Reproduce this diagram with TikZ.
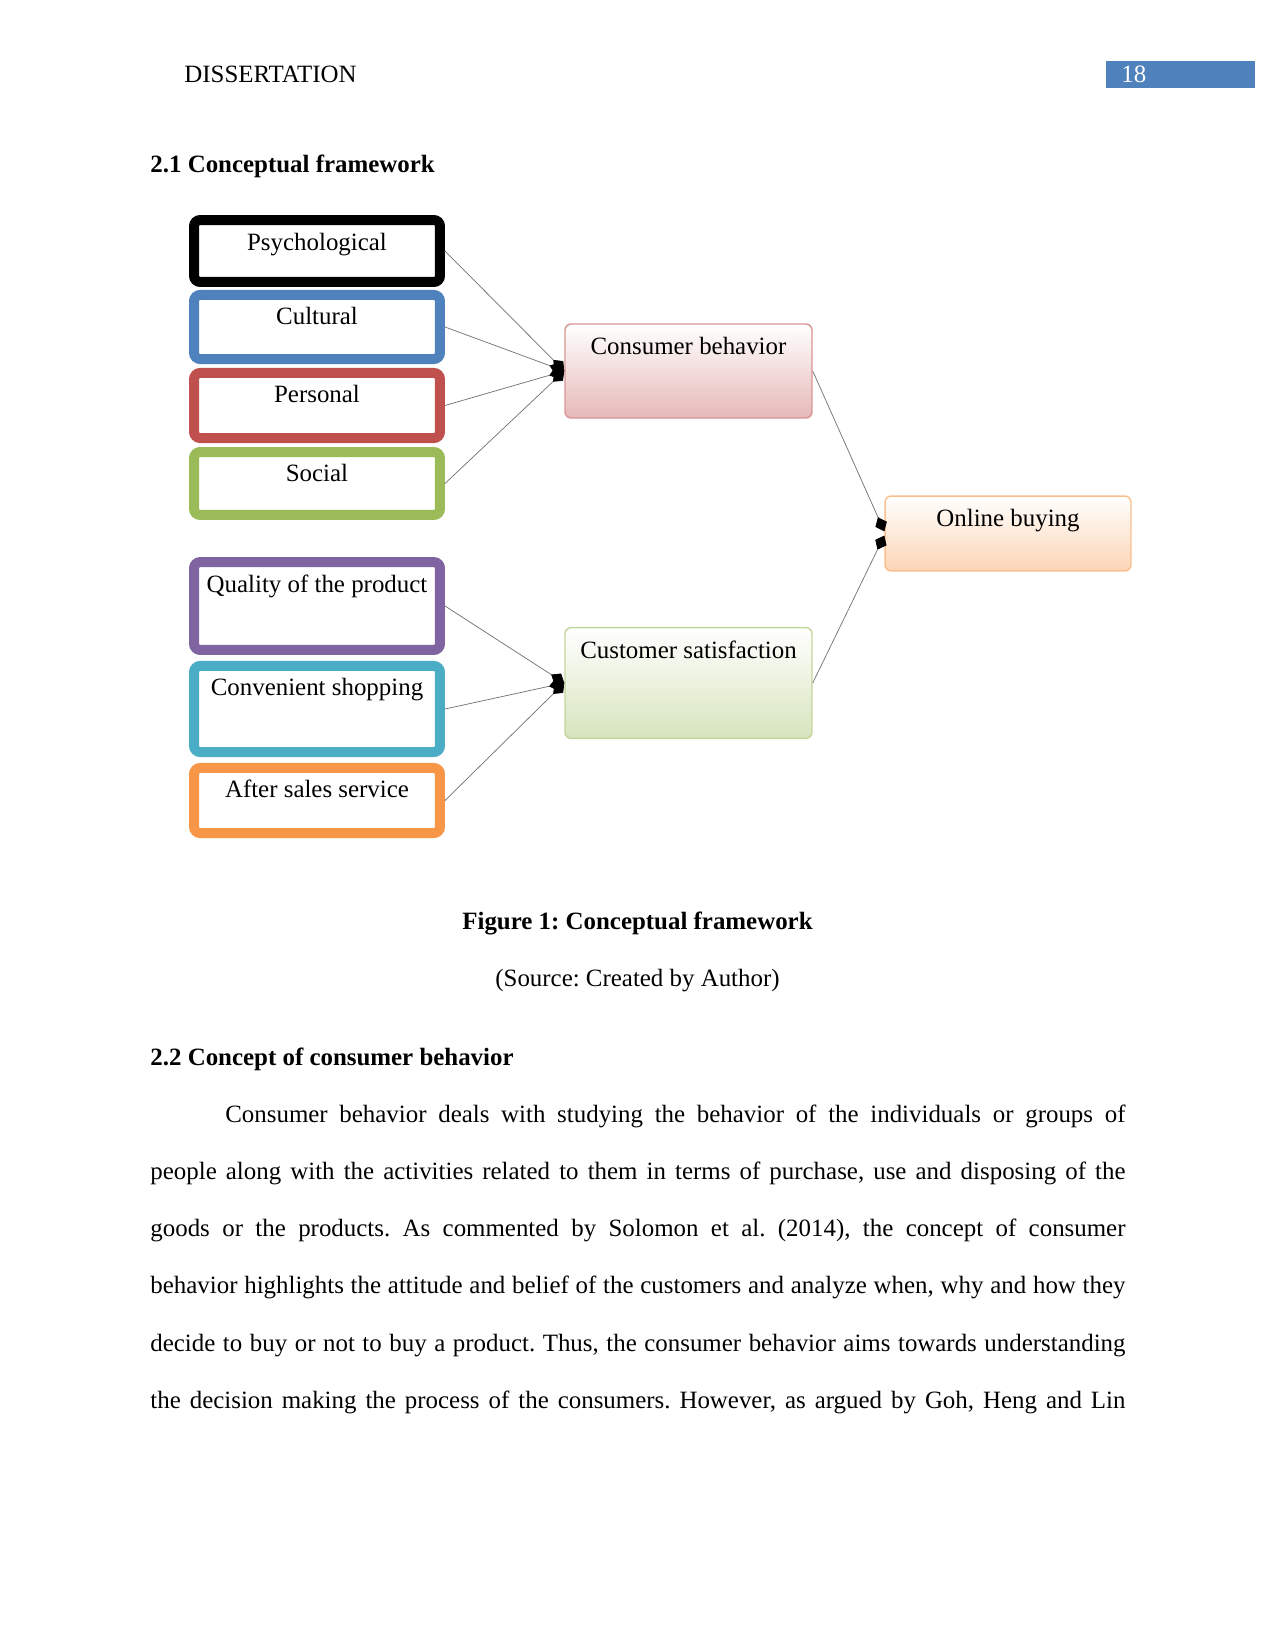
\documentclass[tikz,border=0pt]{standalone}
\usepackage{fontspec}
\setmainfont{Liberation Serif}
\usetikzlibrary{arrows.meta}

\definecolor{cultc}{HTML}{4F81BD}
\definecolor{persc}{HTML}{C0504D}
\definecolor{socc}{HTML}{9BBB59}
\definecolor{qualc}{HTML}{8064A2}
\definecolor{convc}{HTML}{4BACC6}
\definecolor{salec}{HTML}{F79646}
\definecolor{behline}{HTML}{D99694}
\definecolor{behfill}{HTML}{E6B9B8}
\definecolor{satline}{HTML}{C3D69B}
\definecolor{satfill}{HTML}{D7E4BD}
\definecolor{buyline}{HTML}{FAC090}
\definecolor{buyfill}{HTML}{FCD5B5}

\tikzset{
  txt/.style={inner sep=0pt, anchor=base west},
  factor/.style={draw=#1, fill=white, line width=4.82pt, rounded corners=3pt,
    minimum width=118.5pt, inner sep=0pt, text height=14.45pt},
  stage/.style={draw=#1, line width=0.7pt, rounded corners=3pt,
    minimum width=119pt, inner sep=0pt, text height=14.9pt},
  link/.style={draw=black!55, line width=0.35pt,
    -{Diamond[length=7.5pt,width=6pt,color=black]}}
}

\begin{document}
\frenchspacing
\begin{tikzpicture}[x=0.4818pt, y=-0.4818pt, font=\fontsize{12}{13.8}\selectfont]
    % page
    \fill[white] (0,0) rectangle (1275,1650);
    \useasboundingbox (0,0) rectangle (1275,1650);

    % header
    \node[txt] (runhead) at (184,83) {DISSERTATION};
    \fill[cultc] (1106,61) rectangle (1255,88);
    \node[txt, white] (pgnum) at (1121,83) {18};
    \node[txt, font=\fontsize{12}{13.8}\selectfont\bfseries] (sec1) at (150,173) {2.1 Conceptual framework};

    % factor boxes
    \node[factor=black, text depth=15.4pt] (psy) at (317,251) {Psychological};
    \node[factor=cultc, text depth=16.4pt] (cult) at (317,327) {Cultural};
    \node[factor=persc, text depth=16.9pt] (pers) at (317,405.5) {Personal};
    \node[factor=socc, text depth=15.9pt] (soc) at (317,483.5) {Social};
    \node[factor=qualc, text depth=27.9pt] (qual) at (317,606) {Quality of the product};
    \node[factor=convc, text depth=27pt] (conv) at (317,709) {Convenient shopping};
    \node[factor=salec, text depth=16.9pt] (sale) at (317,800.5) {After sales service};

    % middle and right boxes
    \node[stage=behline, top color=white, bottom color=behfill, text depth=30.4pt] (beh) at (688.5,371) {Consumer behavior};
    \node[stage=satline, top color=white, bottom color=satfill, text depth=38.5pt] (sat) at (688.5,683) {Customer satisfaction};
    \node[stage=buyline, top color=white, bottom color=buyfill, minimum width=118.5pt, text depth=21.2pt] (buy) at (1008,533.5) {Online buying};

    % connectors
    \foreach \f in {psy,cult,pers,soc}
      \draw[link] (\f.east) -- (beh.west);
    \foreach \f in {qual,conv,sale}
      \draw[link] (\f.east) -- (sat.west);
    \draw[link] (beh.east) -- ([yshift=1pt]buy.west);
    \draw[link] (sat.east) -- ([yshift=-1pt]buy.west);

    % caption
    \node[inner sep=0pt, anchor=base, font=\fontsize{12}{13.8}\selectfont\bfseries] (cap) at (637.5,929) {Figure 1: Conceptual framework};
    \node[inner sep=0pt, anchor=base] (src) at (637.5,986) {(Source: Created by Author)};

    % section text
    \node[txt, font=\fontsize{12}{13.8}\selectfont\bfseries] (sec2) at (150,1065) {2.2 Concept of consumer behavior};
    \node[txt, text width=469.8pt, align=justify, font=\fontsize{12}{27.6}\selectfont] (para) at (150,1122)
      {\tolerance=10000\hyphenpenalty=10000\spaceskip=3pt plus 8pt minus 1.2pt\parfillskip=0pt
       \hspace*{36.1pt}Consumer behavior deals with studying the behavior of the individuals or groups of\linebreak
       people along with the activities related to them in terms of purchase, use and disposing of the\linebreak
       goods or the products. As commented by Solomon et al. (2014), the concept of consumer\linebreak
       behavior highlights the attitude and belief of the customers and analyze when, why and how they\linebreak
       decide to buy or not to buy a product. Thus, the consumer behavior aims towards understanding\linebreak
       the decision making the process of the consumers. However, as argued by Goh, Heng and Lin\par};
\end{tikzpicture}
\end{document}
